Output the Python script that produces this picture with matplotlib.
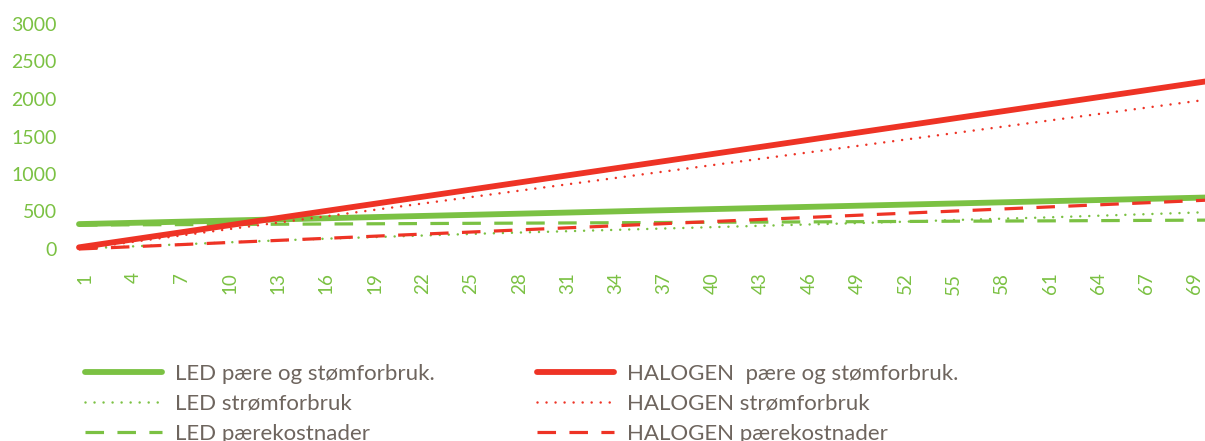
import matplotlib
matplotlib.use("Agg")
import matplotlib.pyplot as plt
import matplotlib.transforms as mtransforms

# sampled years along the category axis
years = [1, 6, 11, 16, 21, 26, 31, 36, 41, 46, 51, 56, 61, 66, 71]

led_total = [332, 357, 383, 408, 434, 459, 484, 510, 535, 560, 585, 610, 636, 661, 686]
led_power = [5, 50, 95, 135, 170, 205, 235, 265, 295, 325, 355, 390, 420, 455, 490]
led_bulbs = [319, 324, 328, 333, 338, 343, 347, 352, 357, 361, 366, 371, 375, 380, 385]

hal_total = [22, 180, 338, 496, 654, 812, 970, 1128, 1286, 1444, 1602, 1760, 1918, 2075, 2233]
hal_power = [0, 142, 284, 426, 568, 710, 852, 994, 1136, 1278, 1420, 1562, 1704, 1846, 1988]
hal_bulbs = [0, 46, 93, 139, 186, 232, 279, 325, 372, 418, 465, 511, 558, 604, 650]

tick_pos = [1, 4, 7, 10, 13, 16, 19, 22, 25, 28, 31, 34, 37, 40, 43, 46, 49, 52, 55, 58, 61, 64, 67, 70]
tick_labels = ["1", "4", "7", "10", "13", "16", "19", "22", "25", "28", "31", "34", "37", "40",
               "43", "46", "49", "52", "55", "58", "61", "64", "67", "69"]
y_ticks = [0, 500, 1000, 1500, 2000, 2500, 3000]

labels = ["LED pære og stømforbruk.", "LED strømforbruk", "LED pærekostnader",
          "HALOGEN  pære og stømforbruk.", "HALOGEN strømforbruk", "HALOGEN pærekostnader"]

green = "#7bc143"
red = "#ee3325"
txt = "#6e655e"

plt.rcParams["font.family"] = ["Lato", "DejaVu Sans"]

fig = plt.figure(figsize=(12.05, 4.41), dpi=100)
ax = fig.add_axes([79 / 1205, 1 - 249 / 441, 1 - 79 / 1205, (249 - 24) / 441])

solid = dict(lw=4.2, solid_capstyle="round")
dotted = dict(lw=1.8, linestyle=(0, (0.01, 3.6)), dash_capstyle="round")
dashed = dict(lw=2.3, linestyle=(0, (5.8, 4.2)))

h1, = ax.plot(years, led_total, color=green, clip_on=False, **solid)
h2, = ax.plot(years, led_power, color=green, clip_on=False, **dotted)
h3, = ax.plot(years, led_bulbs, color=green, clip_on=False, **dashed)
h4, = ax.plot(years, hal_total, color=red, clip_on=False, **solid)
h5, = ax.plot(years, hal_power, color=red, clip_on=False, **dotted)
h6, = ax.plot(years, hal_bulbs, color=red, clip_on=False, **dashed)

ax.set_xlim(1, 71)
ax.set_ylim(0, 3000)
ax.set_xticks(tick_pos)
ax.set_xticklabels(tick_labels, rotation=90, fontsize=13.5, color=green)
ax.set_yticks(y_ticks)
ax.set_yticklabels([str(v) for v in y_ticks], fontsize=14, color=green)
ax.tick_params(axis="both", length=0)
ax.tick_params(axis="x", pad=17)
ax.tick_params(axis="y", pad=16)
for s in ax.spines.values():
    s.set_visible(False)

# Excel puts the rotated labels a bit right of the category centre
shift = mtransforms.ScaledTranslation(6 / 100, 0, fig.dpi_scale_trans)
for lab in ax.get_xticklabels():
    lab.set_transform(lab.get_transform() + shift)

fig.legend([h1, h2, h3, h4, h5, h6], labels, ncol=2, frameon=False,
           loc="upper left", bbox_to_anchor=(85 / 1205, 1 - 363.5 / 441),
           borderpad=0, borderaxespad=0, fontsize=16, labelcolor=txt,
           handlelength=3.45, handletextpad=0.6, columnspacing=4.6, labelspacing=0.45)

fig.savefig("out.png", dpi=100)
